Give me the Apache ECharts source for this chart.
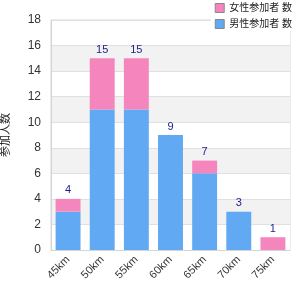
<!DOCTYPE html>
<html>
<head>
<meta charset="utf-8">
<script src="https://cdn.jsdelivr.net/npm/echarts@6/dist/echarts.min.js"></script>
<style>
  html, body { margin: 0; padding: 0; background: #fff; }
  #chart { width: 300px; height: 300px; }
</style>
</head>
<body>
<div id="chart"></div>
<script>
const categories = ["45km", "50km", "55km", "60km", "65km", "70km", "75km"];
const blueName = "男性参加者 数";
const pinkName = "女性参加者 数";
const blueValues = [3, 11, 11, 9, 6, 3, 0];
const pinkValues = [1, 4, 4, 0, 1, 0, 1];
const yAxisName = "参加人数";

const totals = categories.map((_, i) => blueValues[i] + pinkValues[i]);

const chart = echarts.init(document.getElementById("chart"));

const option = {
  animation: false,
  textStyle: { fontFamily: "Arial, 'Noto Sans CJK JP', sans-serif" },
  legend: {
    data: [pinkName, blueName],
    orient: "vertical",
    right: 4,
    top: 1,
    itemWidth: 9,
    itemHeight: 9,
    itemGap: 6,
    icon: "rect",
    backgroundColor: "#fff",
    padding: [2, 4, 2, 4],
    itemStyle: { borderColor: "#888", borderWidth: 1 },
    textStyle: { fontSize: 10, color: "#222" }
  },
  grid: {
    left: 51, right: 10, top: 20, bottom: 50,
    outerBoundsMode: "none",
    show: true, borderColor: "#d8d8d8", borderWidth: 1
  },
  xAxis: {
    type: "category",
    data: categories,
    axisLine: { lineStyle: { color: "#d4d4d4" } },
    axisTick: { show: false },
    axisLabel: { rotate: 45, fontSize: 11, color: "#333", margin: 8 }
  },
  yAxis: {
    type: "value",
    min: 0,
    max: 18,
    interval: 2,
    name: yAxisName,
    nameLocation: "middle",
    nameGap: 40,
    nameTextStyle: { fontSize: 11, color: "#222" },
    axisLine: { show: true, lineStyle: { color: "#d4d4d4" } },
    axisTick: { show: false },
    axisLabel: { fontSize: 12, color: "#333", margin: 10 },
    splitLine: { lineStyle: { color: "#e0e0e0" } },
    splitArea: { show: true, areaStyle: { color: ["#ffffff", "#f2f2f2"] } }
  },
  series: [
    {
      name: blueName,
      type: "bar",
      stack: "total",
      barWidth: "73%",
      data: blueValues,
      itemStyle: { color: "#61a9f3" }
    },
    {
      name: pinkName,
      type: "bar",
      stack: "total",
      barWidth: "73%",
      data: pinkValues,
      itemStyle: { color: "#f585bd" },
      label: {
        show: true,
        position: "top",
        distance: 3,
        fontSize: 11,
        color: "#1d1d8c",
        formatter: p => String(totals[p.dataIndex])
      }
    }
  ]
};

chart.setOption(option);
</script>
</body>
</html>
